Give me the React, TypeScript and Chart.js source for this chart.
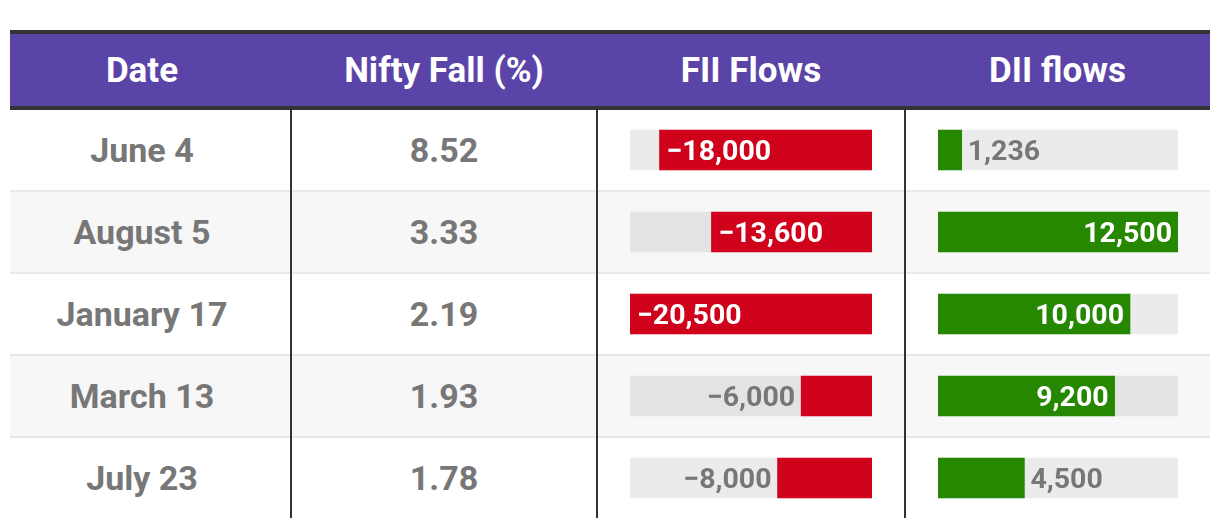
import React, { useEffect, useRef } from "react";
import { Chart, registerables } from "chart.js";

Chart.register(...registerables);

// ---- data ----
const headers = ["Date", "Nifty Fall (%)", "FII Flows", "DII flows"];
const dates = ["June 4", "August 5", "January 17", "March 13", "July 23"];
const niftyFall = ["8.52", "3.33", "2.19", "1.93", "1.78"];
const fiiFlows = [-18000, -13600, -20500, -6000, -8000];
const diiFlows = [1236, 12500, 10000, 9200, 4500];

// ---- styles ----
const PURPLE = "#5b44a8";
const DARK = "#333333";
const RED = "#d0021b";
const GREEN = "#268800";
const GREY_TEXT = "#777777";
const TRACK = "rgba(0,0,0,0.08)";
const FONT = "Roboto, 'Noto Sans', sans-serif";

const ROW_TOP = 110;
const ROW_H = 82;

function fmt(v: number): string {
  const s = Math.abs(v).toLocaleString("en-US");
  return v < 0 ? "\u2212" + s : s;
}

function labelPlugin(side: "neg" | "pos", values: number[], max: number) {
  return {
    id: "valueLabels",
    afterDatasetsDraw(chart: any) {
      const ctx = chart.ctx;
      const meta = chart.getDatasetMeta(0);
      ctx.save();
      ctx.font = `700 28.5px ${FONT}`;
      ctx.textBaseline = "middle";
      meta.data.forEach((el: any, i: number) => {
        const v = values[i];
        const txt = fmt(v);
        const inside = Math.abs(v) / max >= 0.5;
        const left = Math.min(el.x, el.base);
        const right = Math.max(el.x, el.base);
        const y = el.y + 2.5;
        if (side === "neg") {
          if (inside) {
            ctx.fillStyle = "#ffffff";
            ctx.textAlign = "left";
            ctx.fillText(txt, left + 7, y);
          } else {
            ctx.fillStyle = GREY_TEXT;
            ctx.textAlign = "right";
            ctx.fillText(txt, left - 6, y);
          }
        } else {
          if (inside) {
            ctx.fillStyle = "#ffffff";
            ctx.textAlign = "right";
            ctx.fillText(txt, right - 6, y);
          } else {
            ctx.fillStyle = GREY_TEXT;
            ctx.textAlign = "left";
            ctx.fillText(txt, right + 6, y);
          }
        }
      });
      ctx.restore();
    },
  };
}

function FlowChart(props: {
  values: number[];
  side: "neg" | "pos";
  color: string;
  left: number;
  width: number;
}) {
  const ref = useRef<HTMLCanvasElement | null>(null);
  useEffect(() => {
    if (!ref.current) return;
    const max = Math.max(...props.values.map((v) => Math.abs(v)));
    const track = dates.map(() => (props.side === "neg" ? -max : max));
    const chart = new Chart(ref.current, {
      type: "bar",
      data: {
        labels: dates,
        datasets: [
          {
            data: props.values,
            backgroundColor: props.color,
            grouped: false,
            barThickness: 40,
            borderWidth: 0,
            order: 0,
          } as any,
          {
            data: track,
            backgroundColor: TRACK,
            grouped: false,
            barThickness: 40,
            borderWidth: 0,
            order: 1,
          } as any,
        ],
      },
      options: {
        indexAxis: "y",
        responsive: false,
        maintainAspectRatio: false,
        animation: false,
        events: [],
        layout: { padding: 0 },
        scales: {
          x: {
            display: false,
            min: props.side === "neg" ? -max : 0,
            max: props.side === "neg" ? 0 : max,
          },
          y: { display: false },
        },
        plugins: {
          legend: { display: false },
          tooltip: { enabled: false },
        },
      },
      plugins: [labelPlugin(props.side, props.values, max)],
    });
    return () => chart.destroy();
  }, []);
  return (
    <canvas
      ref={ref}
      width={props.width}
      height={dates.length * ROW_H}
      style={{
        position: "absolute",
        left: props.left,
        top: ROW_TOP - 1,
        width: props.width,
        height: dates.length * ROW_H,
      }}
    />
  );
}

const colBounds = [10, 291, 597, 905, 1210];

export default function App() {
  return (
    <div
      style={{
        position: "absolute",
        left: 0,
        top: 0,
        width: 1220,
        height: 528,
        background: "#ffffff",
        fontFamily: FONT,
        overflow: "hidden",
      }}
    >
      {/* header */}
      <div
        style={{
          position: "absolute",
          left: 10,
          top: 30,
          width: 1200,
          height: 4,
          background: DARK,
        }}
      />
      <div
        style={{
          position: "absolute",
          left: 10,
          top: 34,
          width: 1200,
          height: 72,
          background: PURPLE,
        }}
      />
      <div
        style={{
          position: "absolute",
          left: 10,
          top: 106,
          width: 1200,
          height: 4,
          background: DARK,
        }}
      />
      {headers.map((h, i) => {
        const l = i === 0 ? 10 : colBounds[i];
        const w = i === 0 ? 264 : colBounds[i + 1] - colBounds[i];
        return (
          <div
            key={h}
            style={{
              position: "absolute",
              left: l,
              top: 34,
              width: w,
              height: 72,
              display: "flex",
              alignItems: "center",
              justifyContent: "center",
              color: "#ffffff",
              fontWeight: 700,
              fontSize: 35,
              whiteSpace: "nowrap",
            }}
          >
            {h}
          </div>
        );
      })}

      {/* rows */}
      {dates.map((d, r) => {
        const top = ROW_TOP + r * ROW_H;
        return (
          <React.Fragment key={d}>
            <div
              style={{
                position: "absolute",
                left: 10,
                top,
                width: 1200,
                height: 80,
                background: r % 2 === 1 ? "#f7f7f7" : "#ffffff",
              }}
            />
            {r < dates.length - 1 && (
              <div
                style={{
                  position: "absolute",
                  left: 10,
                  top: top + 80,
                  width: 1200,
                  height: 2,
                  background: "#e9e9e9",
                }}
              />
            )}
            <div
              style={{
                position: "absolute",
                left: 10,
                top,
                width: 264,
                height: 80,
                display: "flex",
                alignItems: "center",
                justifyContent: "center",
                color: GREY_TEXT,
                fontWeight: 700,
                fontSize: 34,
                whiteSpace: "nowrap",
              }}
            >
              {d}
            </div>
            <div
              style={{
                position: "absolute",
                left: 291,
                top,
                width: 306,
                height: 80,
                display: "flex",
                alignItems: "center",
                justifyContent: "center",
                color: GREY_TEXT,
                fontWeight: 700,
                fontSize: 34,
                whiteSpace: "nowrap",
              }}
            >
              {niftyFall[r]}
            </div>
          </React.Fragment>
        );
      })}

      {/* vertical separators */}
      {[290, 596, 904].map((x) => (
        <div
          key={x}
          style={{
            position: "absolute",
            left: x,
            top: 110,
            width: 2,
            height: 408,
            background: DARK,
          }}
        />
      ))}

      <FlowChart values={fiiFlows} side="neg" color={RED} left={630} width={242} />
      <FlowChart values={diiFlows} side="pos" color={GREEN} left={938} width={240} />
    </div>
  );
}
